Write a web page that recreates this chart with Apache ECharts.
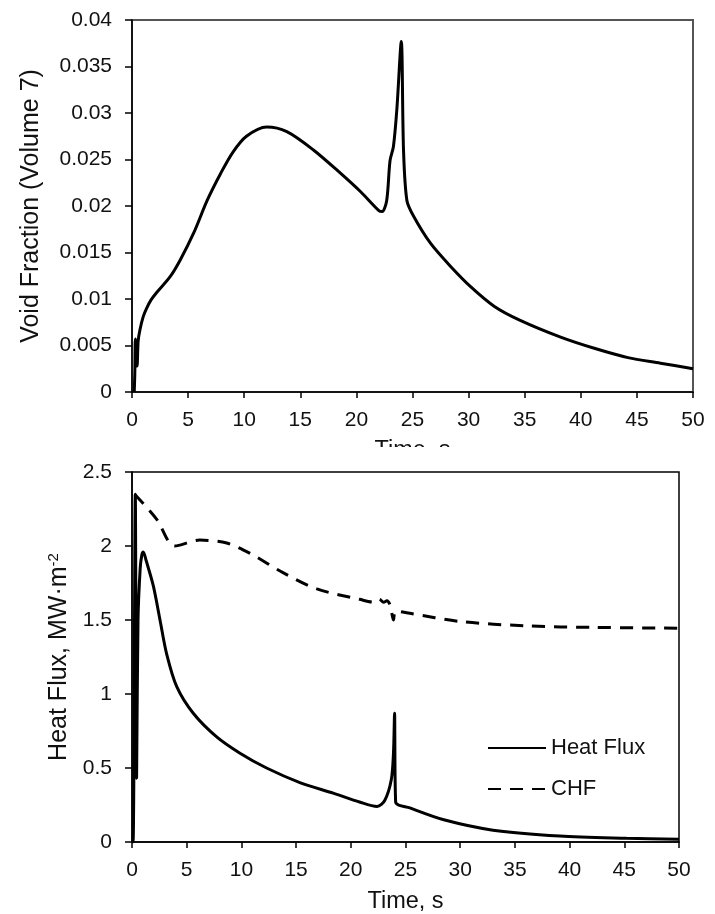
<!DOCTYPE html>
<html>
<head>
<meta charset="utf-8">
<script src="https://cdn.jsdelivr.net/npm/echarts@6/dist/echarts.min.js"></script>
<style>
  html, body { margin: 0; padding: 0; background: #fff; }
  #top { position: absolute; left: 0; top: 0; width: 715px; height: 447px; }
  #bottom { position: absolute; left: 0; top: 447px; width: 715px; height: 467px; }
</style>
</head>
<body>
<div id="top"></div>
<div id="bottom"></div>
<script>
// void fraction in volume 7
const voidTime = [0.2, 0.25, 0.3, 0.4, 0.45, 0.55, 0.71, 1.0, 1.3, 1.7, 2.2, 3.4, 4.3, 5.5, 6.7, 7.9, 9.0, 10.2, 12.0, 13.8, 16.2, 18.6, 20.4, 22.0, 22.3, 22.7, 23.0, 23.3, 23.6, 24.0, 24.2, 24.5, 25.1, 26.6, 28.4, 30.2, 32.3, 34.6, 38.2, 41.2, 44.2, 47.1, 50];
const voidValue = [0, 0.002, 0.0057, 0.003, 0.0028, 0.0055, 0.0067, 0.0081, 0.009, 0.0099, 0.0107, 0.0124, 0.0142, 0.0171, 0.0206, 0.0235, 0.0258, 0.0275, 0.0285, 0.028, 0.026, 0.0235, 0.0215, 0.0195, 0.0194, 0.0206, 0.0249, 0.0264, 0.0303, 0.0377, 0.026, 0.0206, 0.0189, 0.016, 0.0135, 0.0113, 0.0092, 0.0077, 0.0059, 0.0047, 0.0037, 0.0031, 0.0025];

// heat flux and CHF, MW/m2
const hfTime = [0, 0.1, 0.3, 0.42, 0.55, 0.75, 0.9, 1.03, 1.3, 1.95, 2.56, 3.17, 4.09, 5.6, 7.74, 9.87, 12.3, 15.4, 18.4, 20.8, 22.4, 23.1, 23.7, 23.9, 24.0, 24.1, 25.4, 28.5, 33.0, 39.1, 45.2, 50];
const hfValue = [0, 0, 2.35, 0.43, 1.5, 1.85, 1.94, 1.96, 1.9, 1.73, 1.5, 1.27, 1.05, 0.87, 0.71, 0.6, 0.5, 0.4, 0.33, 0.27, 0.24, 0.28, 0.42, 0.6, 0.87, 0.27, 0.23, 0.15, 0.08, 0.04, 0.025, 0.018];
const chfTime = [0.25, 2.26, 3.9, 6.2, 8.66, 10.8, 13.8, 16.9, 20.8, 22.1, 22.6, 23.0, 23.3, 23.6, 23.9, 24.1, 25.4, 30, 36.1, 42.2, 50];
const chfValue = [2.35, 2.18, 2.0, 2.04, 2.02, 1.95, 1.82, 1.71, 1.64, 1.62, 1.64, 1.62, 1.63, 1.6, 1.5, 1.56, 1.545, 1.49, 1.46, 1.45, 1.445];

const xTicks = [0, 50, 5];
const font = '"Liberation Sans", Arial, sans-serif';

function pairs(xs, ys) {
  return xs.map((x, i) => [x, ys[i]]);
}

function xAxis(gap) {
  return {
    type: 'value',
    min: xTicks[0],
    max: xTicks[1],
    interval: xTicks[2],
    name: 'Time, s',
    nameLocation: 'middle',
    nameGap: gap,
    nameTextStyle: { fontFamily: font, fontSize: 23.5, color: '#111' },
    axisLine: { lineStyle: { color: '#000', width: 1.5 } },
    axisTick: { show: true, length: 6, lineStyle: { color: '#000', width: 1.5 } },
    axisLabel: { fontFamily: font, fontSize: 21, color: '#111', margin: 18 },
    splitLine: { show: false },
  };
}

const topChart = echarts.init(document.getElementById('top'));
topChart.setOption({
  animation: false,
  backgroundColor: '#fff',
  grid: {
    left: 132, right: 22, top: 20, bottom: 55,
    outerBoundsMode: 'none',
    show: true, borderColor: '#555', borderWidth: 2,
  },
  xAxis: xAxis(47),
  yAxis: {
    type: 'value',
    min: 0,
    max: 0.04,
    interval: 0.005,
    name: 'Void Fraction (Volume 7)',
    nameLocation: 'middle',
    nameGap: 88,
    nameTextStyle: { fontFamily: font, fontSize: 25, color: '#111' },
    axisLine: { show: true, lineStyle: { color: '#000', width: 1.5 } },
    axisTick: { show: true, length: 7, lineStyle: { color: '#000', width: 1.5 } },
    axisLabel: { fontFamily: font, fontSize: 21, color: '#111', margin: 20 },
    splitLine: { show: false },
  },
  series: [
    {
      type: 'line',
      data: pairs(voidTime, voidValue),
      showSymbol: false,
      smooth: 0.3,
      lineStyle: { color: '#000', width: 3 },
    },
  ],
});

const bottomChart = echarts.init(document.getElementById('bottom'));
bottomChart.setOption({
  animation: false,
  backgroundColor: '#fff',
  grid: {
    left: 132, right: 36, top: 25, bottom: 72,
    outerBoundsMode: 'none',
    show: true, borderColor: '#000', borderWidth: 1.5,
  },
  legend: {
    orient: 'vertical',
    left: 482,
    top: 285,
    itemWidth: 58,
    itemHeight: 14,
    itemGap: 19,
    itemStyle: { opacity: 0 },
    textStyle: { fontFamily: font, fontSize: 22, color: '#111' },
    data: ['Heat Flux', 'CHF'],
  },
  xAxis: xAxis(48),
  yAxis: {
    type: 'value',
    min: 0,
    max: 2.5,
    interval: 0.5,
    name: 'Heat Flux, MW·m{sup|-2}',
    nameLocation: 'middle',
    nameGap: 60,
    nameTextStyle: {
      fontFamily: font,
      fontSize: 25,
      color: '#111',
      rich: { sup: { fontFamily: font, fontSize: 15, color: '#111', verticalAlign: 'top', padding: [0, 0, 11, 0] } },
    },
    axisLine: { show: true, lineStyle: { color: '#000', width: 1.5 } },
    axisTick: { show: true, length: 7, lineStyle: { color: '#000', width: 1.5 } },
    axisLabel: { fontFamily: font, fontSize: 21, color: '#111', margin: 20 },
    splitLine: { show: false },
  },
  series: [
    {
      name: 'Heat Flux',
      type: 'line',
      data: pairs(hfTime, hfValue),
      showSymbol: false,
      symbol: 'none',
      smooth: 0.3,
      itemStyle: { color: '#000' },
      lineStyle: { color: '#000', width: 3 },
    },
    {
      name: 'CHF',
      type: 'line',
      data: pairs(chfTime, chfValue),
      showSymbol: false,
      symbol: 'none',
      smooth: 0.3,
      itemStyle: { color: '#000' },
      lineStyle: { color: '#000', width: 3, type: [13, 9] },
    },
  ],
});
</script>
</body>
</html>
